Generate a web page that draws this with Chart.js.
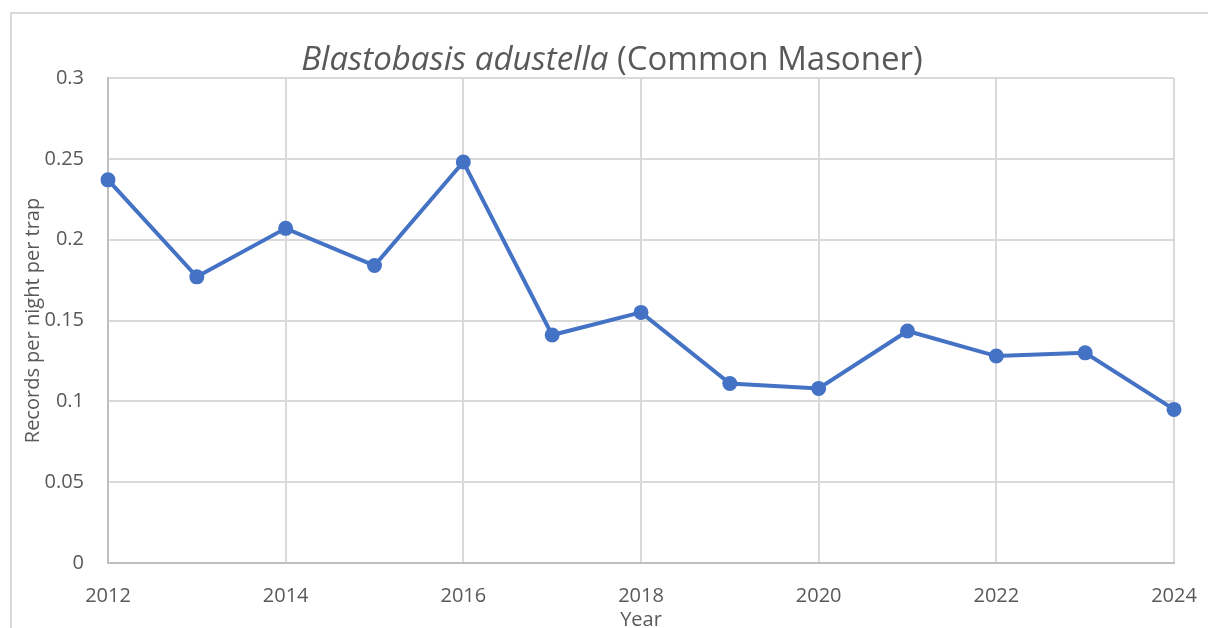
<!DOCTYPE html>
<html lang="en">
<head>
    <meta charset="UTF-8">
    <title>Blastobasis adustella</title>
    <script src="https://cdn.jsdelivr.net/npm/chart.js"></script>
    <style>
        body {
            margin: 0;
            background: #fff;
            overflow: hidden;
            font-family: 'Open Sans', sans-serif;
        }
        .wrap {
            position: relative;
            width: 1208px;
            height: 640px;
        }
        .frame {
            position: absolute;
            left: 10px;
            top: 12px;
            width: 1400px;
            height: 800px;
            border-left: 2px solid #d9d9d9;
            border-top: 2px solid #d9d9d9;
        }
        .title {
            position: absolute;
            left: 0;
            width: 1224px;
            top: 36px;
            text-align: center;
            font-size: 33px;
            line-height: 44px;
            color: #595959;
            white-space: nowrap;
        }
        canvas {
            position: absolute;
            left: 0;
            top: 0;
        }
    </style>
</head>
<body>
    <div class="wrap">
        <div class="frame"></div>
        <canvas id="chart" width="1208" height="640"></canvas>
        <div class="title"><i>Blastobasis adustella</i> (Common Masoner)</div>
    </div>

    <script>
        // values
        const years = [2012, 2013, 2014, 2015, 2016, 2017, 2018, 2019, 2020, 2021, 2022, 2023, 2024];
        const recordsPerTrap = [0.237, 0.177, 0.207, 0.184, 0.248, 0.141, 0.155, 0.111, 0.108, 0.1435, 0.128, 0.130, 0.095];

        const textColor = '#595959';
        const gridColor = '#d9d9d9';
        const tickFont = { family: "'Open Sans', sans-serif", size: 20 };

        const points = years.map((y, i) => ({ x: y, y: recordsPerTrap[i] }));

        new Chart(document.getElementById('chart'), {
            type: 'line',
            data: {
                datasets: [{
                    label: 'Records per night per trap',
                    data: points,
                    borderColor: '#4472c4',
                    backgroundColor: '#4472c4',
                    borderWidth: 4,
                    pointRadius: 7.5,
                    pointHoverRadius: 7.5,
                    pointBorderWidth: 0,
                    tension: 0,
                    clip: false
                }]
            },
            options: {
                responsive: false,
                animation: false,
                layout: {
                    padding: { top: 78, right: 34, bottom: 0, left: 0 }
                },
                plugins: {
                    legend: { display: false },
                    tooltip: { enabled: false }
                },
                scales: {
                    x: {
                        type: 'linear',
                        min: 2012,
                        max: 2024,
                        ticks: {
                            stepSize: 2,
                            color: textColor,
                            font: tickFont,
                            padding: 21,
                            maxRotation: 0,
                            callback: v => String(v)
                        },
                        grid: { color: gridColor, lineWidth: 2, drawTicks: false },
                        border: { color: '#bfbfbf', width: 2 },
                        title: {
                            display: true,
                            text: 'Year',
                            color: textColor,
                            font: tickFont,
                            padding: { top: 0, bottom: 8 }
                        },
                        afterFit: s => {
                            s.height = 77;
                            s.paddingLeft = 0;
                            s.paddingRight = 0;
                        }
                    },
                    y: {
                        min: 0,
                        max: 0.3,
                        ticks: {
                            stepSize: 0.05,
                            color: textColor,
                            font: tickFont,
                            padding: 24,
                            callback: v => String(Math.round(v * 100) / 100)
                        },
                        grid: { color: gridColor, lineWidth: 2, drawTicks: false },
                        border: { color: '#bfbfbf', width: 2 },
                        title: {
                            display: true,
                            text: 'Records per night per trap',
                            color: textColor,
                            font: tickFont,
                            padding: { top: 21, bottom: 0 }
                        },
                        afterFit: s => {
                            s.width = 108;
                            s.paddingTop = 0;
                            s.paddingBottom = 0;
                        }
                    }
                }
            }
        });
    </script>
</body>
</html>
